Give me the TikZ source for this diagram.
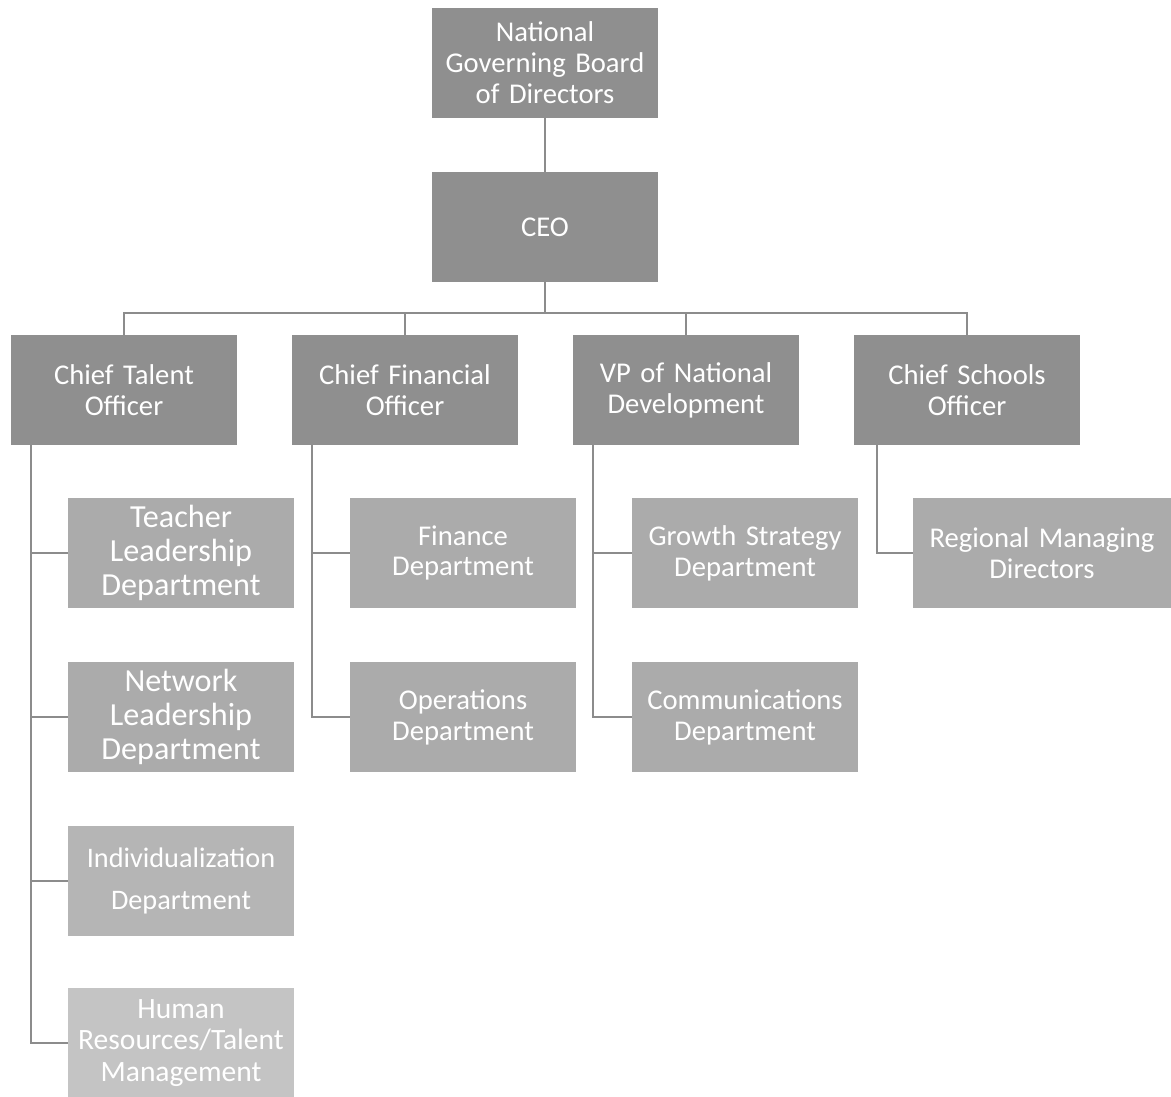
\documentclass[tikz,border=0pt]{standalone}
\usepackage{fontspec}
\setmainfont{Carlito}
\usepackage{tikz}

\definecolor{headgrey}{gray}{0.56}
\definecolor{deptgrey}{gray}{0.67}
\definecolor{hrgrey}{gray}{0.77}
\definecolor{linegrey}{gray}{0.55}

\tikzset{
  headbox/.style={rectangle,fill=headgrey,text=white,minimum width=4.52cm,minimum height=2.2cm,
    text width=4.4cm,align=center,inner sep=0pt,font=\fontsize{16.3}{17.6}\selectfont},
  deptbox/.style={headbox,fill=deptgrey},
  bigtext/.style={font=\fontsize{18.3}{19.3}\selectfont},
  link/.style={draw=linegrey,line width=1.2pt}
}

\begin{document}
\begin{tikzpicture}[x=0.02cm,y=-0.02cm]
\useasboundingbox (0,0) rectangle (1171,1097);

\node[headbox] (board) at (545,63) {National\\Governing Board\\of Directors};
\node[headbox] (ceo) at (545,227) {CEO};

\node[headbox] (cto) at (124,390) {Chief Talent\\Officer};
\node[headbox] (cfo) at (405,390) {Chief Financial\\Officer};
\node[headbox] (vpnd) at (686,390) {VP of National\\Development};
\node[headbox] (cso) at (967,390) {Chief Schools\\Officer};

\node[deptbox,bigtext] (teacher) at (181,553) {Teacher\\Leadership\\Department};
\node[deptbox,bigtext] (network) at (181,717) {Network\\Leadership\\Department};
\node[deptbox,fill=deptgrey!88!white,font=\fontsize{16.1}{23.8}\selectfont] (indiv) at (181,881) {Individualization\\Department};
\node[deptbox,fill=hrgrey,font=\fontsize{16.8}{18}\selectfont] (hr) at (181,1043) {Human\\Resources/Talent\\Management};

\node[deptbox] (finance) at (463,553) {Finance\\Department};
\node[deptbox] (ops) at (463,717) {Operations\\Department};

\node[deptbox] (growth) at (745,553) {Growth Strategy\\Department};
\node[deptbox] (comms) at (745,717) {Communications\\Department};

\node[deptbox,minimum width=5.16cm,text width=5cm] (regional) at (1042,553) {Regional Managing\\Directors};

\coordinate (bus) at (545,313);

\draw[link] (board) -- (ceo);
\draw[link] (ceo) -- (bus);
\foreach \n in {cto,cfo,vpnd,cso}
  \draw[link] (bus) -| (\n);

\foreach \d in {teacher,network,indiv,hr}
  \draw[link] ([xshift=0.4cm]cto.south west) |- (\d.west);
\foreach \d in {finance,ops}
  \draw[link] ([xshift=0.4cm]cfo.south west) |- (\d.west);
\foreach \d in {growth,comms}
  \draw[link] ([xshift=0.4cm]vpnd.south west) |- (\d.west);
\draw[link] ([xshift=0.46cm]cso.south west) |- (regional.west);
\end{tikzpicture}
\end{document}
